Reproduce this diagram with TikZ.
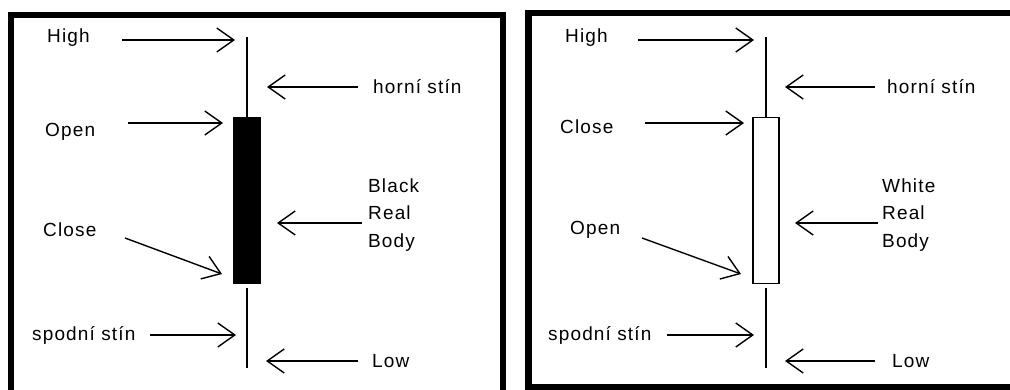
\documentclass[tikz,border=0pt]{standalone}
\usepackage{fontspec}
\setmainfont{Liberation Sans}[LetterSpace=6]
\usetikzlibrary{arrows.meta}

\begin{document}
\begin{tikzpicture}[
  x=1pt, y=-1pt,
  frame/.style={line width=6.5pt},
  lbl/.style={anchor=west, inner sep=0pt, font=\fontsize{19}{27.5}\selectfont},
  wick/.style={line width=1.4pt},
  candle/.style={draw, line width=1.4pt, inner sep=0pt, minimum width=26pt, minimum height=166pt},
  pointer/.style={-{Straight Barb[length=17pt, width=24pt]}, line width=1.4pt}
]
\useasboundingbox (0,0) rectangle (1010,390);

% Left panel: black candle
\draw[frame] (10.8,395) -- (10.8,15) -- (502.8,15) -- (502.8,395);

\node[candle, fill=black] (bodyL) at (247,200.5) {};
\coordinate (highL) at (247,37);
\coordinate (lowL) at (247,368);
\draw[wick] (highL) -- (bodyL.north);
\draw[wick] ([yshift=-4pt]bodyL.south) -- (lowL);

\node[lbl] (hiTxtL) at (47,38) {High};
\node[lbl] (opTxtL) at (45,132) {Open};
\node[lbl] (clTxtL) at (43,230) {Close};
\node[lbl] (spTxtL) at (32,335) {spodní stín};
\node[lbl] (hoTxtL) at (373,87) {horní stín};
\node[lbl, align=left] (rbTxtL) at (368,215) {Black\\Real\\Body};
\node[lbl] (loTxtL) at (372,361) {Low};

\coordinate (hiA) at (122,40);   \coordinate (hiB) at (235,40);
\coordinate (opA) at (128,123);  \coordinate (opB) at (223,123);
\coordinate (clA) at (125,238);  \coordinate (clB) at (222,274);
\coordinate (spA) at (150,335);  \coordinate (spB) at (236,335);
\coordinate (hoA) at (358,87);   \coordinate (hoB) at (267,87);
\coordinate (rbA) at (362,223);  \coordinate (rbB) at (277,223);
\coordinate (loA) at (358,361);  \coordinate (loB) at (266,361);

\draw[pointer] (hiA) -- (hiB);
\draw[pointer] (opA) -- (opB);
\draw[pointer] (clA) -- (clB);
\draw[pointer] (spA) -- (spB);
\draw[pointer] (hoA) -- (hoB);
\draw[pointer] (rbA) -- (rbB);
\draw[pointer] (loA) -- (loB);

% Right panel: white candle
\draw[frame] (1015,13) -- (528.3,13) -- (528.3,387.5) -- (1015,387.5);

\node[candle, fill=white] (bodyR) at (766,200.5) {};
\coordinate (highR) at (766,37);
\coordinate (lowR) at (766,368);
\draw[wick] (highR) -- (bodyR.north);
\draw[wick] ([yshift=-4pt]bodyR.south) -- (lowR);

\node[lbl] (hiTxtR) at (565,38) {High};
\node[lbl] (clTxtR) at (560,127) {Close};
\node[lbl] (opTxtR) at (570,230) {Open};
\node[lbl] (spTxtR) at (548,335) {spodní stín};
\node[lbl] (hoTxtR) at (887,87) {horní stín};
\node[lbl, align=left] (rbTxtR) at (882,215) {White\\Real\\Body};
\node[lbl] (loTxtR) at (892,361) {Low};

\coordinate (hiC) at (638,40);   \coordinate (hiD) at (754,40);
\coordinate (clC) at (645,123);  \coordinate (clD) at (744,123);
\coordinate (opC) at (642,238);  \coordinate (opD) at (741,274);
\coordinate (spC) at (667,335);  \coordinate (spD) at (754,335);
\coordinate (hoC) at (875,87);   \coordinate (hoD) at (785,87);
\coordinate (rbC) at (878,223);  \coordinate (rbD) at (795,223);
\coordinate (loC) at (875,361);  \coordinate (loD) at (785,361);

\draw[pointer] (hiC) -- (hiD);
\draw[pointer] (clC) -- (clD);
\draw[pointer] (opC) -- (opD);
\draw[pointer] (spC) -- (spD);
\draw[pointer] (hoC) -- (hoD);
\draw[pointer] (rbC) -- (rbD);
\draw[pointer] (loC) -- (loD);
\end{tikzpicture}
\end{document}
